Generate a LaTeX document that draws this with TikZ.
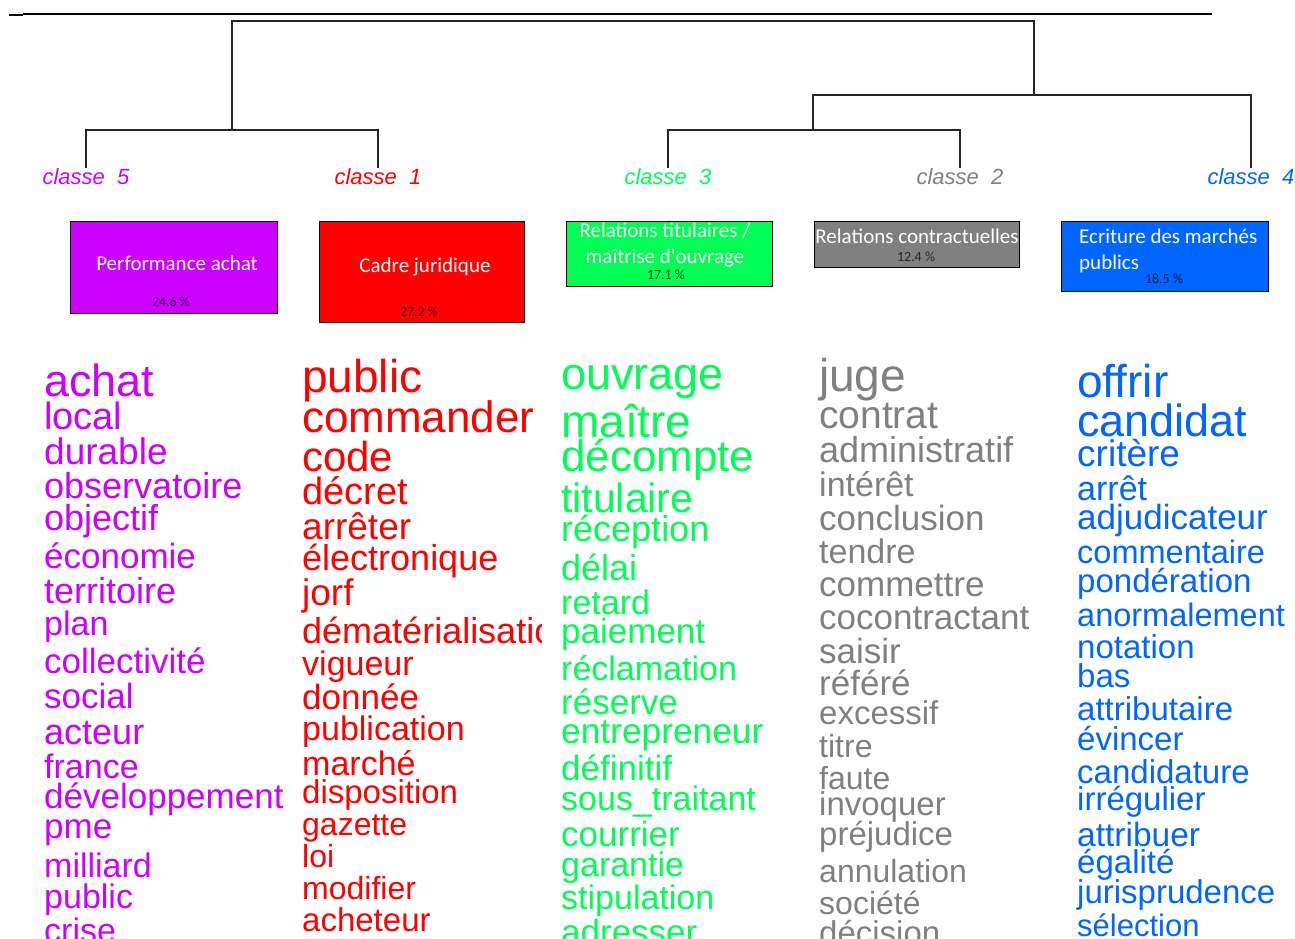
\documentclass[tikz,border=0pt]{standalone}
\usepackage{fontspec}
\setmainfont{Liberation Sans}
\newfontfamily\boxfont{Carlito}
\usepackage{xcolor}
\usetikzlibrary{positioning}

\definecolor{clsfive}{RGB}{204,0,255}
\definecolor{clsone}{RGB}{255,0,0}
\definecolor{clsthree}{RGB}{0,255,85}
\definecolor{clstwo}{RGB}{128,128,128}
\definecolor{clsfour}{RGB}{0,102,255}

\tikzset{
    word/.style={
        anchor=west,
        inner sep=0pt,
        text height={0.72*#1pt},
        text depth=0pt,
        font=\fontsize{#1}{#1}\selectfont
    },
    w5/.style={word=#1, text=clsfive},
    w1/.style={word=#1, text=clsone},
    w3/.style={word=#1, text=clsthree},
    w2/.style={word=#1, text=clstwo},
    w4/.style={word=#1, text=clsfour},
    clslabel/.style={
        anchor=north,
        inner sep=0pt,
        text height=16pt,
        text depth=4pt,
        font=\fontsize{22}{22}\selectfont\itshape
    },
    catbox/.style={
        draw=black,
        line width=1.3pt,
        anchor=north west,
        inner sep=0pt
    },
    boxtitle/.style={
        text=white,
        inner sep=0pt,
        font=\boxfont\fontsize{21}{26}\selectfont
    },
    boxpct/.style={
        inner sep=0pt,
        font=\boxfont\fontsize{14}{14}\selectfont
    },
    dendro/.style={
        draw=black!85,
        line width=1.6pt
    }
}

\begin{document}
\begin{tikzpicture}[x=1pt, y=-1pt]
\useasboundingbox (0,0) rectangle (1295,938);

% Top rule
\coordinate (rule-a) at (9,15);
\coordinate (rule-b) at (23,15);
\coordinate (rule-c) at (1212,14);
\draw[line width=2.5pt] (rule-a) -- (rule-b);
\draw[line width=1.2pt] (rule-b |- rule-c) -- (rule-c);

% Class labels (leaves of the tree)
\node[clslabel, text=clsfive] (cl5) at (86,168) {classe\ \ 5};
\node[clslabel, text=clsone] (cl1) at (378,168) {classe\ \ 1};
\node[clslabel, text=clsthree] (cl3) at (668,168) {classe\ \ 3};
\node[clslabel, text=clstwo] (cl2) at (960,168) {classe\ \ 2};
\node[clslabel, text=clsfour] (cl4) at (1251,168) {classe\ \ 4};

% Joins of the dendrogram
\coordinate (j51) at (232,130);
\coordinate (j32) at (813,130);
\coordinate (j324) at (1034,95);
\coordinate (jroot) at (632,21);

\draw[dendro] (cl5.north) |- (j51) -| (cl1.north);
\draw[dendro] (cl3.north) |- (j32) -| (cl2.north);
\draw[dendro] (j32) |- (j324) -| (cl4.north);
\draw[dendro] (j51) |- (jroot) -| (j324);

% Class boxes
\node[catbox, fill=clsfive, minimum width=207pt, minimum height=92pt] (b5) at (70,221) {};
\node[catbox, fill=clsone, minimum width=205pt, minimum height=101pt] (b1) at (319,221) {};
\node[catbox, fill=clsthree, minimum width=206pt, minimum height=65pt] (b3) at (566,221) {};
\node[catbox, fill=clstwo, minimum width=205pt, minimum height=46pt] (b2) at (814,221) {};
\node[catbox, fill=clsfour, minimum width=207pt, minimum height=70pt] (b4) at (1061,221) {};

\node[boxtitle] (t5) at (177,263) {Performance achat};
\node[boxpct, text=clsfive!25!black] (p5) at (171,302) {24.6 \%};
\node[boxtitle] (t1) at (425,267) {Cadre juridique};
\node[boxpct, text=clsone!30!black] (p1) at (419,312) {27.2 \%};
\node[boxtitle, align=center] (t3) at (665,245) {Relations titulaires /\\maîtrise d'ouvrage};
\node[boxpct, text=clsthree!30!black] (p3) at (666,275) {17.1 \%};
\node[boxtitle] (t2) at (917,236) {Relations contractuelles};
\node[boxpct, text=clstwo!30!black] (p2) at (916,257) {12.4 \%};
\node[boxtitle, align=left, anchor=west] (t4) at (1079,251) {Ecriture des marchés\\publics};
\node[boxpct, text=clsfour!30!black] (p4) at (1164,279) {18.5 \%};

% Words of classe 5
\begin{scope}
\clip (0,330) rectangle (283,938);
\node[w5=45] (c5w1) at (44,380) {achat};
\node[w5=38] (c5w2) at (44,416) {local};
\node[w5=37] (c5w3) at (44,451) {durable};
\node[w5=36] (c5w4) at (44,486) {observatoire};
\node[w5=36] (c5w5) at (44,518) {objectif};
\node[w5=35] (c5w6) at (44,556) {économie};
\node[w5=36] (c5w7) at (44,591) {territoire};
\node[w5=34] (c5w8) at (44,623) {plan};
\node[w5=35] (c5w9) at (44,661) {collectivité};
\node[w5=35] (c5w10) at (44,696) {social};
\node[w5=36] (c5w11) at (44,732) {acteur};
\node[w5=34] (c5w12) at (44,766) {france};
\node[w5=35] (c5w13) at (44,796) {développement};
\node[w5=35] (c5w14) at (44,826) {pme};
\node[w5=34] (c5w15) at (44,865) {milliard};
\node[w5=34] (c5w16) at (44,896) {public};
\node[w5=34] (c5w17) at (44,930) {crise};
\end{scope}

% Words of classe 1
\begin{scope}
\clip (290,330) rectangle (541,938);
\node[w1=46] (c1w1) at (302,376) {public};
\node[w1=44] (c1w2) at (302,417) {commander};
\node[w1=42] (c1w3) at (302,456) {code};
\node[w1=38] (c1w4) at (302,491) {décret};
\node[w1=37] (c1w5) at (302,526) {arrêter};
\node[w1=36] (c1w6) at (302,558) {électronique};
\node[w1=37] (c1w7) at (302,592) {jorf};
\node[w1=36] (c1w8) at (302,631) {dématérialisation};
\node[w1=34] (c1w9) at (302,663) {vigueur};
\node[w1=35] (c1w10) at (302,697) {donnée};
\node[w1=34] (c1w11) at (302,728) {publication};
\node[w1=34] (c1w12) at (302,763) {marché};
\node[w1=33] (c1w13) at (302,792) {disposition};
\node[w1=32] (c1w14) at (302,824) {gazette};
\node[w1=32] (c1w15) at (302,856) {loi};
\node[w1=32] (c1w16) at (302,888) {modifier};
\node[w1=33] (c1w17) at (302,920) {acheteur};
\end{scope}

% Words of classe 3
\node[w3=45] (c3w1) at (561,373) {ouvrage};
\node[w3=46] (c3w2) at (561,421) {maître};
\node[w3=44] (c3w3) at (561,456) {décompte};
\node[w3=41] (c3w4) at (561,498) {titulaire};
\node[w3=36] (c3w5) at (561,529) {réception};
\node[w3=36] (c3w6) at (561,568) {délai};
\node[w3=34] (c3w7) at (561,602) {retard};
\node[w3=35] (c3w8) at (561,631) {paiement};
\node[w3=34] (c3w9) at (561,668) {réclamation};
\node[w3=35] (c3w10) at (561,702) {réserve};
\node[w3=35.3] (c3w11) at (561,731) {entrepreneur};
\node[w3=35] (c3w12) at (561,768) {définitif};
\node[w3=34] (c3w13) at (561,798) {sous\_traitant};
\node[w3=35] (c3w14) at (561,834) {courrier};
\node[w3=34] (c3w15) at (561,864) {garantie};
\node[w3=34] (c3w16) at (561,897) {stipulation};
\node[w3=35] (c3w17) at (561,932) {adresser};

% Words of classe 2
\node[w2=46] (c2w1) at (819,375) {juge};
\node[w2=39] (c2w2) at (819,414) {contrat};
\node[w2=36] (c2w3) at (819,450) {administratif};
\node[w2=34] (c2w4) at (819,484) {intérêt};
\node[w2=35] (c2w5) at (819,518) {conclusion};
\node[w2=34] (c2w6) at (819,551) {tendre};
\node[w2=35] (c2w7) at (819,584) {commettre};
\node[w2=35] (c2w8) at (819,617) {cocontractant};
\node[w2=35] (c2w9) at (819,651) {saisir};
\node[w2=35] (c2w10) at (819,683) {référé};
\node[w2=33] (c2w11) at (819,713) {excessif};
\node[w2=32] (c2w12) at (819,746) {titre};
\node[w2=32] (c2w13) at (819,778) {faute};
\node[w2=33] (c2w14) at (819,804) {invoquer};
\node[w2=33] (c2w15) at (819,834) {préjudice};
\node[w2=32] (c2w16) at (819,871) {annulation};
\node[w2=32] (c2w17) at (819,903) {société};
\node[w2=33] (c2w18) at (819,933) {décision};

% Words of classe 4
\node[w4=46] (c4w1) at (1077,381) {offrir};
\node[w4=45] (c4w2) at (1077,420) {candidat};
\node[w4=37] (c4w3) at (1077,453) {critère};
\node[w4=34] (c4w4) at (1077,488) {arrêt};
\node[w4=35] (c4w5) at (1077,517) {adjudicateur};
\node[w4=32.5] (c4w6) at (1077,552) {commentaire};
\node[w4=33] (c4w7) at (1077,581) {pondération};
\node[w4=32.5] (c4w8) at (1077,615) {anormalement};
\node[w4=33] (c4w9) at (1077,647) {notation};
\node[w4=33] (c4w10) at (1077,676) {bas};
\node[w4=33] (c4w11) at (1077,709) {attributaire};
\node[w4=33] (c4w12) at (1077,739) {évincer};
\node[w4=33] (c4w13) at (1077,772) {candidature};
\node[w4=33] (c4w14) at (1077,799) {irrégulier};
\node[w4=33.5] (c4w15) at (1077,834) {attribuer};
\node[w4=33] (c4w16) at (1077,862) {égalité};
\node[w4=33] (c4w17) at (1077,892) {jurisprudence};
\node[w4=31] (c4w18) at (1077,925) {sélection};

\end{tikzpicture}
\end{document}
